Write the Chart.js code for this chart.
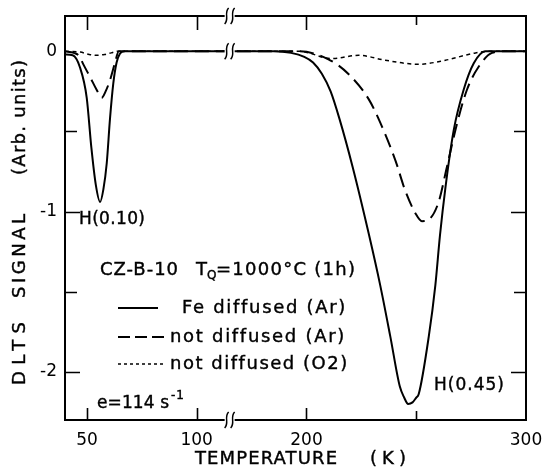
<!DOCTYPE html>
<html><head><meta charset="utf-8">
<script src="https://cdn.jsdelivr.net/npm/chart.js@4/dist/chart.umd.min.js"></script>
<style>html,body{margin:0;padding:0;background:#fff;}#wrap{width:544px;height:472px;}</style>
</head><body><div id="wrap"><canvas id="c" width="544" height="472"></canvas></div>
<script>
// ---- data (temperature in K, DLTS signal in arb. units) ----
const tempFe = [40,43.5,46.8,49.9,52,54,56,57.5,59,60.5,62,63.5,65,67,114,164,185,193,199,203,207,211,215,221,228.4,233.6,238.2,242.5,244.5,246.3,248.3,250,251.1,255.7,258.7,260.8,263.3,267.1,271.6,276.2,281.5,300];
const sigFe  = [-0.02,-0.025,-0.10,-0.29,-0.60,-0.83,-0.94,-0.86,-0.70,-0.42,-0.20,-0.07,-0.015,0,0,0,0,-0.01,-0.035,-0.07,-0.14,-0.25,-0.42,-0.72,-1.14,-1.46,-1.78,-2.09,-2.16,-2.20,-2.19,-2.16,-2.14,-1.78,-1.46,-1.15,-0.85,-0.49,-0.24,-0.075,0,0];
const tempAr = [40,44,46.5,48.3,51.4,54.4,56.7,58.5,60.5,62.8,64.5,114,164,196.5,210,219,228.4,234.4,240.5,245,249.6,252.6,255.7,260.2,264,268.6,273.1,278.5,284.5,290,300];
const sigAr  = [0,-0.01,-0.03,-0.08,-0.16,-0.24,-0.29,-0.25,-0.18,-0.07,0,0,0,0,-0.05,-0.14,-0.30,-0.47,-0.68,-0.87,-1.01,-1.06,-1.05,-0.94,-0.72,-0.45,-0.24,-0.095,-0.01,0,0];
const tempO2 = [40,47,51,54.5,58,61,64,114,164,196.5,211.6,223.8,235.9,251.1,263.3,275.4,283,300];
const sigO2  = [0,-0.005,-0.02,-0.025,-0.02,-0.01,0,0,0,0,-0.046,-0.025,-0.056,-0.081,-0.056,-0.015,0,0];
const seriesNames = ['Fe diffused (Ar)','not diffused (Ar)','not diffused (O2)'];
const xTickValues = [50,100,200,250,300];
const xTickLabels = ['50','100','200','','300'];
const yTickValues = [0,-0.5,-1,-1.5,-2];
const yTickLabels = ['0','','-1','','-2'];
const breakLow = 114, breakHigh = 164;   // broken temperature axis

function toAxis(T){ return T <= breakLow ? T : T - (breakHigh - breakLow); }
function pts(ts, vs){ return ts.map((t,i)=>({x:toAxis(t), y:vs[i]})); }

const FONT = '"DejaVu Sans", sans-serif';

function fitText(ctx, str, x, y, w, size){
  ctx.font = size + 'px ' + FONT;
  ctx.letterSpacing = '0px';
  const nat = ctx.measureText(str).width;
  const n = [...str].length;
  const ls = (w && n > 1) ? (w - nat) / (n - 1) : 0;
  ctx.letterSpacing = ls + 'px';
  ctx.textAlign = 'left';
  ctx.textBaseline = 'middle';
  ctx.lineWidth = 0.4;
  ctx.fillText(str, x, y);
  ctx.strokeText(str, x, y);
  ctx.letterSpacing = '0px';
}

const decor = {
  id: 'decor',
  afterDraw(chart){
    const ctx = chart.ctx, a = chart.chartArea;
    const xs = chart.scales.x, ys = chart.scales.y;
    ctx.save();
    ctx.strokeStyle = '#000'; ctx.fillStyle = '#000';
    // frame
    ctx.lineWidth = 2;
    ctx.strokeRect(a.left, a.top, a.right - a.left, a.bottom - a.top);
    // x ticks (inward, top & bottom)
    ctx.lineWidth = 1.6;
    xTickValues.forEach((v,i)=>{
      const px = Math.round(xs.getPixelForValue(toAxis(v))) + 0.5;
      const major = xTickLabels[i] !== '';
      if (px > a.right - 2) return;
      ctx.beginPath();
      ctx.moveTo(px, a.top); ctx.lineTo(px, a.top + (major ? 14 : 9));
      ctx.moveTo(px, a.bottom); ctx.lineTo(px, a.bottom - (major ? 12 : 9));
      ctx.stroke();
    });
    // y ticks (inward, left & right)
    yTickValues.forEach((v,i)=>{
      const py = Math.round(ys.getPixelForValue(v)) + 0.5;
      const major = yTickLabels[i] !== '';
      if (v === 0) return;
      ctx.beginPath();
      ctx.moveTo(a.left, py); ctx.lineTo(a.left + (major ? 15 : 12), py);
      ctx.moveTo(a.right, py); ctx.lineTo(a.right - (major ? 15 : 12), py);
      ctx.stroke();
    });
    // axis break marks
    const xb = xs.getPixelForValue(breakLow + 1);
    [a.top, ys.getPixelForValue(0), a.bottom].forEach(y=>{
      ctx.fillStyle = '#fff';
      ctx.fillRect(xb - 5, y - 3, 10, 6);
      ctx.lineWidth = 1.5;
      [-3, 3].forEach(dx=>{
        const cx = xb + dx;
        ctx.beginPath();
        ctx.moveTo(cx + 2, y - 8);
        ctx.bezierCurveTo(cx - 3, y - 3, cx + 3, y + 3, cx - 2, y + 8);
        ctx.stroke();
      });
    });
    ctx.fillStyle = '#000';
    // y axis title (rotated)
    const ytitle = [['(Arb. units)', 60, 175], ['SIGNAL', 214, 298], ['DLTS', 322, 385]];
    ytitle.forEach(([s, y1, y2])=>{
      ctx.save();
      ctx.translate(20, y2);
      ctx.rotate(-Math.PI/2);
      fitText(ctx, s, 0, 0, y2 - y1, 18);
      ctx.restore();
    });
    // x axis title
    fitText(ctx, 'TEMPERATURE', 195, 459, 142, 18);
    fitText(ctx, '(K)', 370, 459, 36, 18);
    // annotations
    fitText(ctx, 'H(0.10)', 79, 220, 66, 17);
    fitText(ctx, 'H(0.45)', 434, 386, 70, 17);
    fitText(ctx, 'CZ-B-10', 100, 270, 78, 18);
    fitText(ctx, 'T', 196, 270, 0, 18);
    fitText(ctx, 'Q', 207, 276, 0, 12);
    fitText(ctx, '=1000°C (1h)', 216, 270, 139, 18);
    fitText(ctx, 'e=114 s', 97, 404, 72, 17);
    fitText(ctx, '-1', 171, 396, 13, 12);
    // legend
    const leg = [[308, [], 2, 182, 163], [337, [12,5], 2, 170, 174], [364, [3,3], 1.5, 170, 177]];
    leg.forEach(([y, dash, lw, tx, tw], i)=>{
      ctx.setLineDash(dash); ctx.lineWidth = lw;
      ctx.beginPath(); ctx.moveTo(118, y); ctx.lineTo(i === 0 ? 158 : 164, y); ctx.stroke();
      ctx.setLineDash([]);
      fitText(ctx, seriesNames[i], tx, y, tw, 18);
    });
    ctx.restore();
  }
};

new Chart(document.getElementById('c'), {
  type: 'line',
  data: {
    datasets: [
      {label: seriesNames[0], data: pts(tempFe, sigFe), borderColor:'#000', borderWidth:2, pointRadius:0, cubicInterpolationMode:'monotone', fill:false},
      {label: seriesNames[1], data: pts(tempAr, sigAr), borderColor:'#000', borderWidth:2, borderDash:[14,7], pointRadius:0, cubicInterpolationMode:'monotone', fill:false},
      {label: seriesNames[2], data: pts(tempO2, sigO2), borderColor:'#000', borderWidth:1.5, borderDash:[4,3.5], pointRadius:0, cubicInterpolationMode:'monotone', fill:false}
    ]
  },
  options: {
    responsive: false, animation: false, devicePixelRatio: 1,
    layout: {padding: {left: 0, right: 18, top: 16, bottom: 0}},
    plugins: {legend: {display: false}, tooltip: {enabled: false}},
    scales: {
      x: {
        type: 'linear', min: 40, max: 250,
        afterFit(s){ s.height = 52; s.paddingLeft = 0; s.paddingRight = 0; },
        afterBuildTicks(s){ s.ticks = xTickValues.map(v=>({value: toAxis(v)})); },
        grid: {display: false, drawTicks: false}, border: {display: false},
        ticks: {autoSkip: false, maxRotation: 0, padding: 10, color: '#000',
                font: {family: 'DejaVu Sans', size: 17},
                callback: (v, i) => xTickLabels[i]}
      },
      y: {
        type: 'linear', min: -2.3, max: 0.22,
        afterFit(s){ s.width = 65; s.paddingTop = 0; s.paddingBottom = 0; },
        afterBuildTicks(s){ s.ticks = yTickValues.map(v=>({value: v})); },
        grid: {display: false, drawTicks: false}, border: {display: false},
        ticks: {autoSkip: false, padding: 8, color: '#000',
                font: {family: 'DejaVu Sans', size: 17},
                callback: (v, i) => yTickLabels[i]}
      }
    }
  },
  plugins: [decor]
});
</script></body></html>
